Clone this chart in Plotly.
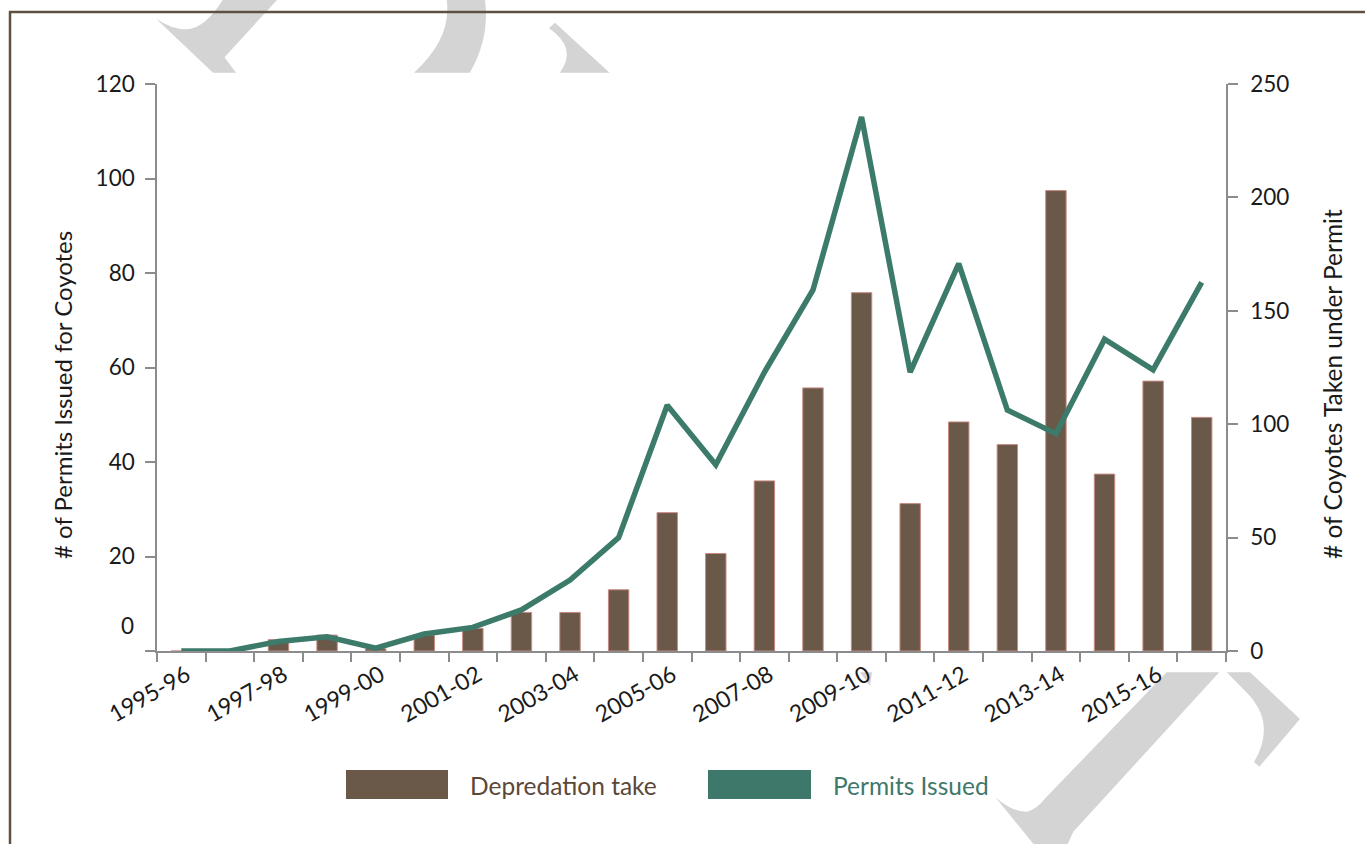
import plotly.graph_objects as go

seasons = ["1995-96", "1996-97", "1997-98", "1998-99", "1999-00", "2000-01", "2001-02",
           "2002-03", "2003-04", "2004-05", "2005-06", "2006-07", "2007-08", "2008-09",
           "2009-10", "2010-11", "2011-12", "2012-13", "2013-14", "2014-15", "2015-16",
           "2016-17"]
# Coyotes taken under permit (right axis)
depredation_take = [0, 0, 5, 7, 1, 7, 10, 17, 17, 27, 61, 43, 75, 116, 158, 65, 101, 91, 203, 78, 119, 103]
# Permits issued (left axis)
permits_issued = [0, 0, 2, 3, 0.6, 3.6, 5, 8.7, 15, 24, 52, 39.4, 59, 76.4, 113, 59, 82, 51, 46, 66, 59.5, 78]

shown_labels = ["1995-96", "1997-98", "1999-00", "2001-02", "2003-04", "2005-06",
                "2007-08", "2009-10", "2011-12", "2013-14", "2015-16"]
tick_text = [s if s in shown_labels else "" for s in seasons]

left_ticks = [0, 20, 40, 60, 80, 100, 120]
right_ticks = [0, 50, 100, 150, 200, 250]

W, H = 1365, 844
L, R, T, B = 157, 1226, 84, 651

def px(x):
    return (x - L) / (R - L)

def py(y):
    return (B - y) / (B - T)

def path(pts):
    out = []
    for p in pts:
        if p[0] in ("M", "L"):
            out.append(f"{p[0]} {px(p[1]):.5f},{py(p[2]):.5f}")
        elif p[0] == "Q":
            out.append(f"Q {px(p[1]):.5f},{py(p[2]):.5f} {px(p[3]):.5f},{py(p[4]):.5f}")
    return " ".join(out) + " Z"

FONT = "Lato, 'Open Sans', sans-serif"
GREY = "#8c8c8c"
BROWN = "#6a5849"
TEAL = "#3c7a6a"
WM = "#d4d4d4"
TXT = "#1a1a1a"

fig = go.Figure()
fig.add_trace(go.Bar(
    x=seasons, y=depredation_take, yaxis="y", name="Depredation take",
    marker=dict(color=BROWN, line=dict(color="#c98a82", width=1)), width=0.42,
))
fig.add_trace(go.Scatter(
    x=seasons, y=permits_issued, yaxis="y2", mode="lines", name="Permits Issued",
    line=dict(color=TEAL, width=5.5),
))

watermark = [
    [("M", 155.6, 18.3), ("Q", 172, 30, 188, 29.3), ("Q", 206, 27, 222.6, 0), ("L", 277, 0),
     ("L", 224.5, 57.3), ("L", 236, 72.7), ("L", 213, 72.7)],
    [("M", 446.7, 0), ("L", 485, 0), ("Q", 490, 38, 469.7, 72.7), ("L", 414, 72.7),
     ("Q", 452, 38, 446.7, 0)],
    [("M", 549, 28.3), ("L", 555, 22.7), ("L", 609.6, 72.7), ("L", 559.8, 72.7),
     ("Q", 578, 48, 549, 28.3)],
    [("M", 1166.7, 672.3), ("L", 1219.3, 672.3), ("L", 1073.3, 831.7), ("L", 1065, 850),
     ("L", 1038.3, 850), ("L", 995, 796.7), ("Q", 1012, 812, 1026.7, 811.7),
     ("Q", 1036, 810, 1046.7, 796.7)],
    [("M", 1226.7, 672.3), ("L", 1250, 672.3), ("L", 1300, 719), ("L", 1259.3, 766.7),
     ("L", 1254, 762), ("Q", 1276, 725, 1249, 695)],
    [("M", 860, 672.3), ("L", 872, 672.3), ("L", 870, 686)],
]
shapes = []
for wm in watermark:
    shapes.append(dict(type="path", xref="paper", yref="paper", path=path(wm),
                       fillcolor=WM, line=dict(width=0), layer="below"))

# outer frame
shapes.append(dict(type="path", xref="paper", yref="paper",
                   path=f"M {px(10):.5f},{py(900):.5f} L {px(10):.5f},{py(12):.5f} L {px(1400):.5f},{py(12):.5f}",
                   line=dict(color="#5f5141", width=2.5), layer="above"))

# legend swatches
shapes.append(dict(type="rect", xref="paper", yref="paper", x0=px(346), x1=px(448),
                   y0=py(799), y1=py(770), fillcolor=BROWN, line=dict(width=0)))
shapes.append(dict(type="rect", xref="paper", yref="paper", x0=px(708), x1=px(811),
                   y0=py(799), y1=py(770), fillcolor="#3e786a", line=dict(width=0)))

annotations = [
    dict(text="Depredation take", xref="paper", yref="paper", x=px(468), y=py(785),
         xanchor="left", yanchor="middle", showarrow=False,
         font=dict(family=FONT, size=24.5, color="#5c4838")),
    dict(text="Permits Issued", xref="paper", yref="paper", x=px(831), y=py(785),
         xanchor="left", yanchor="middle", showarrow=False,
         font=dict(family=FONT, size=24.5, color="#3e786a")),
    dict(text="# of Permits Issued for Coyotes", xref="paper", yref="paper", x=px(62), y=py(395),
         textangle=-90, xanchor="center", yanchor="middle", showarrow=False,
         font=dict(family=FONT, size=24, color=TXT)),
    dict(text="# of Coyotes Taken under Permit", xref="paper", yref="paper", x=px(1332), y=py(384),
         textangle=-90, xanchor="center", yanchor="middle", showarrow=False,
         font=dict(family=FONT, size=24.5, color=TXT)),
    dict(text="0", xref="paper", yref="y2", x=px(136), y=0, yshift=26,
         xanchor="right", yanchor="middle", showarrow=False,
         font=dict(family=FONT, size=22.5, color=TXT)),
]

fig.update_layout(
    width=W, height=H,
    margin=dict(l=L, r=W - R, t=T, b=H - B, pad=0),
    paper_bgcolor="white", plot_bgcolor="rgba(0,0,0,0)",
    showlegend=False,
    font=dict(family=FONT, size=22, color=TXT),
    xaxis=dict(type="category", categoryorder="array", categoryarray=seasons,
               range=[-0.5, len(seasons) - 0.5],
               tickmode="array", tickvals=seasons, ticktext=tick_text,
               tickson="boundaries", ticks="outside", ticklen=9, tickwidth=1.5,
               tickcolor=GREY, showline=True, linecolor=GREY, linewidth=1.5,
               tickangle=-30, showgrid=False, zeroline=False, ticklabelshift=5,
               tickfont=dict(family=FONT, size=23, color=TXT)),
    yaxis=dict(range=[0, 250], side="right", tickmode="array", tickvals=right_ticks,
               ticks="outside", ticklen=10, tickwidth=1.5, tickcolor=GREY,
               showline=True, linecolor=GREY, linewidth=1.5, showgrid=False, zeroline=False,
               ticklabelstandoff=8,
               tickfont=dict(family=FONT, size=22.5, color=TXT)),
    yaxis2=dict(range=[0, 120], side="left", overlaying="y", anchor="x",
                tickmode="array", tickvals=left_ticks,
                ticktext=["" if v == 0 else str(v) for v in left_ticks],
                ticks="outside", ticklen=10, tickwidth=1.5, tickcolor=GREY,
                showline=True, linecolor=GREY, linewidth=1.5, showgrid=False, zeroline=False,
                ticklabelstandoff=6,
                tickfont=dict(family=FONT, size=22.5, color=TXT)),
    shapes=shapes,
    annotations=annotations,
)

fig.write_html("out.html", config={"displayModeBar": False},
               post_script="document.body.style.margin='0';")
